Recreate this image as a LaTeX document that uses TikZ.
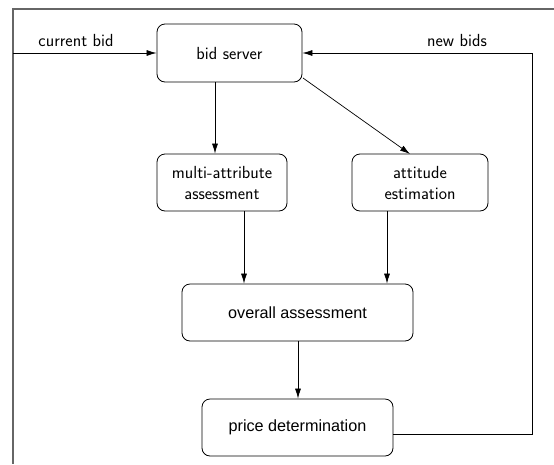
\documentclass[tikz,border=0pt]{standalone}
\usepackage{fontspec}
\newfontfamily\helv{Liberation Sans}
\usetikzlibrary{arrows.meta}
\begin{document}
\begin{tikzpicture}[x=1pt,y=-1pt,
  box/.style={draw,rounded corners=8pt,line width=0.8pt,inner sep=0pt,align=center},
  figfont/.style={font=\sffamily\fontsize{17.5}{21}\selectfont},
  hfont/.style={font=\helv\fontsize{16.2}{19}\selectfont},
  conn/.style={line width=0.7pt,-{Latex[length=10pt,width=6pt]}},
  plain/.style={line width=0.7pt},
  frame/.style={draw=black!60,line width=1.3pt}]
\useasboundingbox (0,0) rectangle (554,464);
\draw[frame] (554,9) -- (13,9) -- (13,464);
\node[box,figfont,minimum width=145pt,minimum height=58pt] (bs) at (229.5,53) {bid server};
\node[box,figfont,minimum width=130pt,minimum height=57pt] (ma) at (222,182.5) {multi-attribute\\assessment};
\node[box,figfont,minimum width=136pt,minimum height=57pt] (ae) at (420,182.5) {attitude\\estimation};
\node[box,hfont,minimum width=231pt,minimum height=57pt] (oa) at (297.5,312.5) {overall assessment};
\node[box,hfont,minimum width=191pt,minimum height=57pt] (pd) at (297.5,427.5) {price determination};
\node[figfont,anchor=base] (lcb) at (76,46) {current bid};
\node[figfont,anchor=base] (lnb) at (457,46) {new bids};
\coordinate (in) at (13,53);
\coordinate (d1) at (303,78);
\coordinate (d2) at (410,154);
\coordinate (r1) at (532,434);
\coordinate (r2) at (532,53);
\draw[conn] (in) -- (bs.west);
\draw[conn] (bs.south -| 215,0) -- (ma.north -| 215,0);
\draw[conn] (d1) -- (d2);
\draw[conn] (ma.south -| 244,0) -- (oa.north -| 244,0);
\draw[conn] (ae.south -| 387,0) -- (oa.north -| 387,0);
\draw[conn] (oa.south -| 298,0) -- (pd.north -| 298,0);
\draw[conn] (pd.east |- r1) -- (r1) -- (r2) -- (bs.east);
\end{tikzpicture}
\end{document}
